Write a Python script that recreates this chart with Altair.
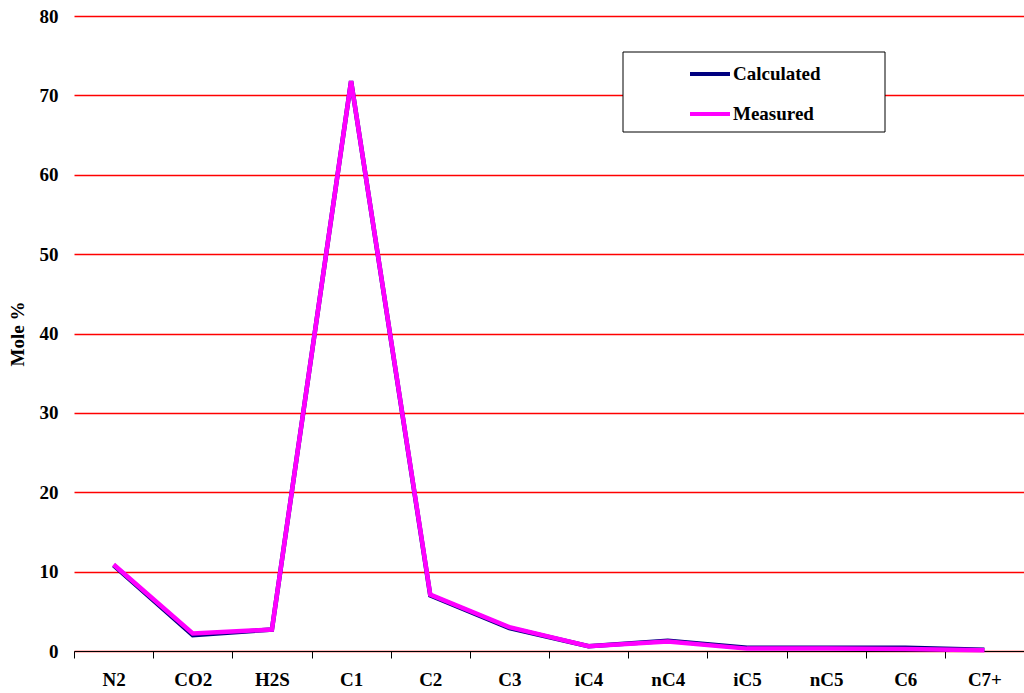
import altair as alt
import pandas as pd

components = ["N2", "CO2", "H2S", "C1", "C2", "C3", "iC4", "nC4", "iC5", "nC5", "C6", "C7+"]
calculated = [10.8, 2.0, 2.7, 71.8, 7.0, 2.9, 0.6, 1.3, 0.4, 0.4, 0.4, 0.15]
measured = [10.9, 2.2, 2.7, 71.8, 7.1, 3.0, 0.6, 1.2, 0.3, 0.3, 0.25, 0.1]
series_names = ["Calculated", "Measured"]
series_colors = ["#000080", "#FF00FF"]

rows = []
for name, values in zip(series_names, [calculated, measured]):
    for comp, v in zip(components, values):
        rows.append({"Component": comp, "Mole": v, "Series": name})
df = pd.DataFrame(rows)

FONT = "Liberation Serif"

lines = alt.Chart(df).mark_line(strokeWidth=4.5).encode(
    x=alt.X("Component:N", sort=components, title=None,
            scale=alt.Scale(paddingInner=0, paddingOuter=0),
            axis=alt.Axis(labelAngle=0, tickBand="extent", tickSize=7,
                          tickColor="#000000", domainColor="#000000",
                          labelPadding=12, labelFontSize=19,
                          labelFont=FONT, labelFontWeight="bold",
                          labelColor="#000000")),
    y=alt.Y("Mole:Q", title="Mole %",
            scale=alt.Scale(domain=[0, 80], nice=False),
            axis=alt.Axis(values=list(range(0, 81, 10)), grid=True,
                          gridColor="#FF0000", gridWidth=1.5,
                          domain=False, ticks=False, labelPadding=16,
                          labelFontSize=19, labelFont=FONT,
                          labelFontWeight="bold", labelColor="#000000",
                          titleFontSize=19, titleFont=FONT,
                          titleFontWeight="bold", titleColor="#000000",
                          titlePadding=12)),
    color=alt.Color("Series:N",
                    scale=alt.Scale(domain=series_names, range=series_colors),
                    legend=alt.Legend(title=None, orient="none",
                                      legendX=614, legendY=36,
                                      symbolType="stroke", symbolSize=1600,
                                      symbolStrokeWidth=4, labelFontSize=19,
                                      labelFont=FONT, labelFontWeight="bold",
                                      labelColor="#000000",
                                      labelOffset=1, rowPadding=8, padding=0)),
    order=alt.Order("Series:N"),
)

legend_box = alt.Chart(pd.DataFrame({"k": [0]})).mark_rect(
    fill="#FFFFFF", stroke="#000000", strokeWidth=1
).encode(
    x=alt.value(549), x2=alt.value(811),
    y=alt.value(36), y2=alt.value(116),
)

chart = alt.layer(legend_box, lines).properties(
    width=950, height=635,
    background="#FFFFFF",
    autosize=alt.AutoSizeParams(type="none"),
    padding={"left": 74, "top": 16, "right": 0, "bottom": 42},
).configure_view(stroke=None)

chart.save("out.html", embed_options={"renderer": "svg", "actions": False})
